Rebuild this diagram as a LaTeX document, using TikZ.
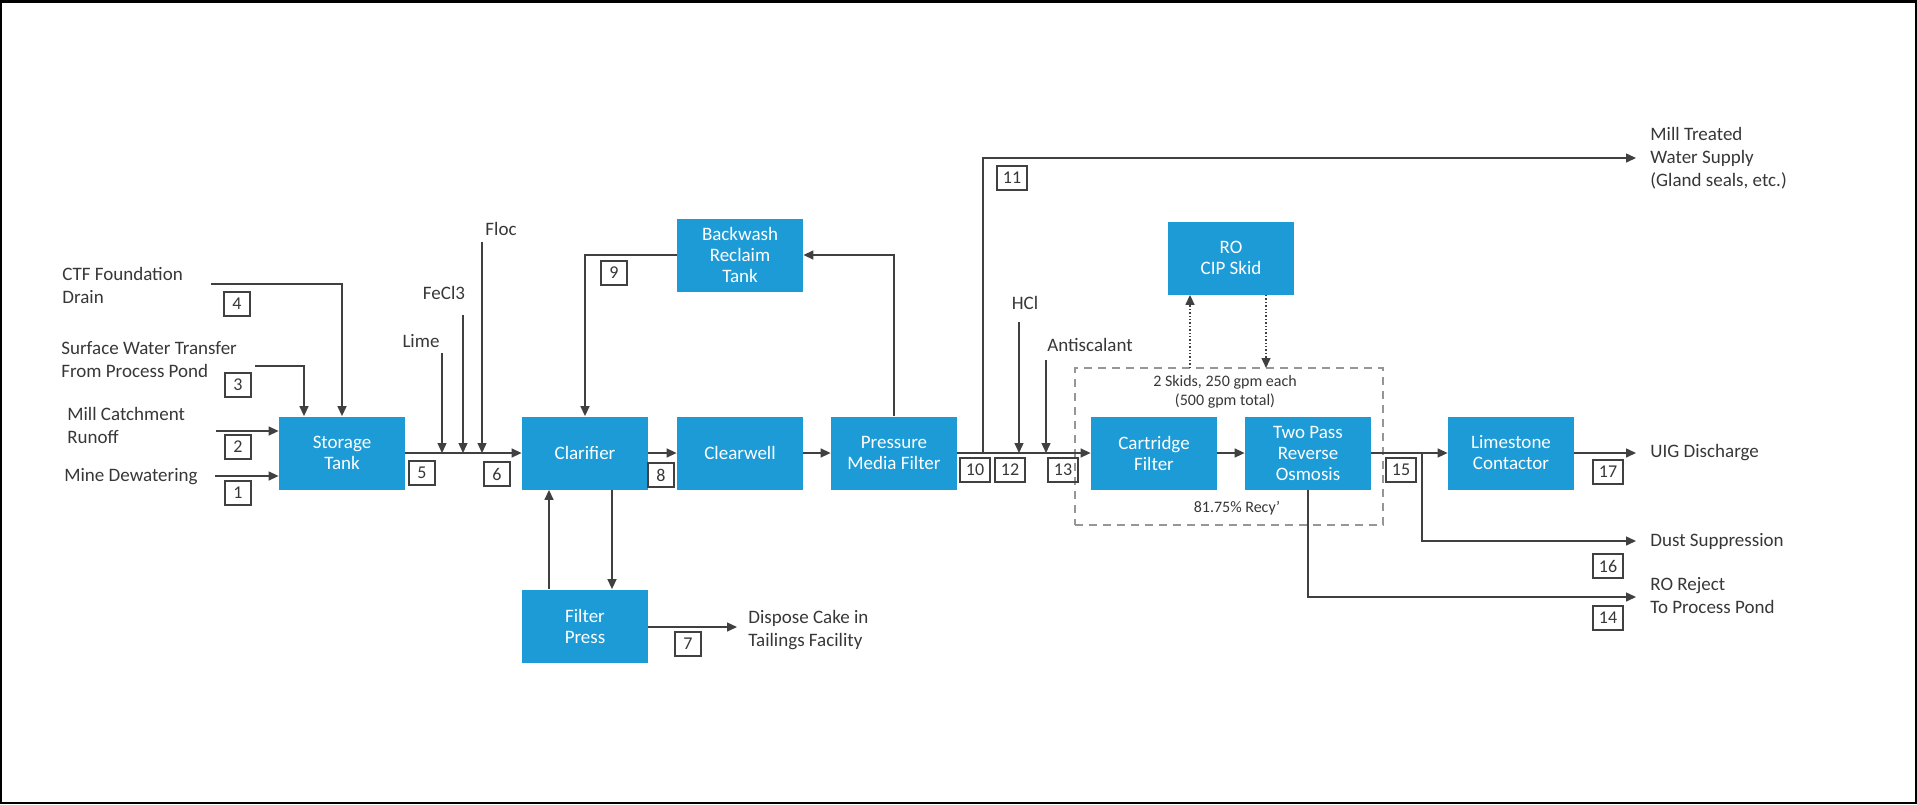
\documentclass[tikz,border=0pt]{standalone}
\usepackage{fontspec}
\setmainfont{Carlito}
\usepackage{tikz}
\usetikzlibrary{calc, positioning, arrows.meta}
\definecolor{unitblue}{RGB}{29,155,214}
\definecolor{linegray}{RGB}{64,64,64}
\definecolor{textgray}{RGB}{55,55,55}
\definecolor{skidgray}{RGB}{150,150,150}

\tikzset{
  unitbox/.style={rectangle, fill=unitblue, text=white, align=center, minimum width=63pt, minimum height=36.5pt, inner sep=1pt, font=\fontsize{9.5}{10.5}\selectfont},
  numbox/.style={draw=linegray, rectangle, line width=0.7pt, minimum width=13pt, minimum height=12pt, inner xsep=3pt, inner ysep=0pt, text=textgray, font=\fontsize{9}{10}\selectfont},
  lbl/.style={align=left, text=textgray, inner sep=0pt, font=\fontsize{9.5}{11.5}\selectfont},
  note/.style={align=center, text=textgray, inner sep=0pt, font=\fontsize{8}{9.5}\selectfont},
  flow/.style={draw=linegray, line width=0.7pt, -{Triangle[length=5pt, width=4.5pt]}},
  cipflow/.style={flow, densely dotted},
  skidframe/.style={draw=skidgray, line width=0.8pt, dash pattern=on 4pt off 3pt, rectangle, inner sep=0pt},
}

\begin{document}
\begin{tikzpicture}[x=50pt, y=50pt]
  \useasboundingbox (0,0) rectangle (19.17,-8.04);
  \draw[line width=1.25pt] (0.0125,-0.0125) rectangle (19.1575,-8.0275);

  % process units
  \node[unitbox] (storage) at (3.42,-4.53) {Storage\\Tank};
  \node[unitbox] (clarifier) at (5.85,-4.53) {Clarifier};
  \node[unitbox] (clearwell) at (7.40,-4.53) {Clearwell};
  \node[unitbox] (pmf) at (8.94,-4.53) {Pressure\\Media Filter};
  \node[unitbox] (backwash) at (7.40,-2.55) {Backwash\\Reclaim\\Tank};
  \node[unitbox] (filterpress) at (5.85,-6.26) {Filter\\Press};
  \node[unitbox] (cartridge) at (11.54,-4.53) {Cartridge\\Filter};
  \node[unitbox] (ro) at (13.08,-4.53) {Two Pass\\Reverse\\Osmosis};
  \node[unitbox] (rocip) at (12.31,-2.58) {RO\\CIP Skid};
  \node[unitbox] (limestone) at (15.11,-4.53) {Limestone\\Contactor};

  % RO skid frame
  \node[skidframe, minimum width=154pt, minimum height=78.5pt] (skids) at (12.29,-4.465) {};
  \node[note] (skidnote) at (12.25,-3.92) {2 Skids, 250 gpm each\\(500 gpm total)};
  \node[note] (recovery) at (12.37,-5.08) {81.75\% Recy'};

  % feed streams
  \node[lbl, anchor=west] (ctf) at (0.62,-2.85) {CTF Foundation\\Drain};
  \node[lbl, anchor=west] (surface) at (0.61,-3.60) {Surface Water Transfer\\From Process Pond};
  \node[lbl, anchor=west] (catchment) at (0.67,-4.25) {Mill Catchment\\Runoff};
  \node[lbl, anchor=west] (mine) at (0.64,-4.77) {Mine Dewatering};
  \coordinate (c4) at (2.11,-2.84);
  \coordinate (c3) at (2.55,-3.66);
  \coordinate (c2) at (2.16,-4.31);
  \coordinate (c1) at (2.15,-4.76);
  \draw[flow] (c4) -| (storage.north);
  \draw[flow] (c3) -| ($(storage.north)+(-0.38,0)$);
  \draw[flow] (c2) -- (c2 -| storage.west);
  \draw[flow] (c1) -- (c1 -| storage.west);

  % reagents
  \node[lbl] (lime) at (4.21,-3.41) {Lime};
  \node[lbl] (fecl) at (4.44,-2.93) {FeCl3};
  \node[lbl] (floc) at (5.01,-2.29) {Floc};
  \coordinate (limein) at (4.42,-3.53);
  \coordinate (feclin) at (4.63,-3.15);
  \coordinate (flocin) at (4.82,-2.42);
  \draw[flow] (limein) -- (limein |- storage.east);
  \draw[flow] (feclin) -- (feclin |- storage.east);
  \draw[flow] (flocin) -- (flocin |- storage.east);

  % main train
  \draw[flow] (storage.east) -- (clarifier.west);
  \draw[flow] (clarifier.east) -- (clearwell.west);
  \draw[flow] (clearwell.east) -- (pmf.west);
  \draw[flow] (pmf.north) |- (backwash.east);
  \draw[flow] (backwash.west) -| (clarifier.north);
  \draw[flow] ($(filterpress.north)+(-0.36,0)$) -- ($(clarifier.south)+(-0.36,0)$);
  \draw[flow] ($(clarifier.south)+(0.27,0)$) -- ($(filterpress.north)+(0.27,0)$);

  \node[lbl, anchor=west] (dispose) at (7.48,-6.30) {Dispose Cake in\\Tailings Facility};
  \coordinate (cakeout) at (7.37,-6.27);
  \draw[flow] (filterpress.east |- cakeout) -- (cakeout);

  % RO train
  \node[lbl] (hcl) at (10.25,-3.03) {HCl};
  \node[lbl] (antiscalant) at (10.90,-3.45) {Antiscalant};
  \coordinate (hclin) at (10.19,-3.22);
  \coordinate (antiin) at (10.46,-3.60);
  \draw[flow] (pmf.east) -- (cartridge.west);
  \draw[flow] (hclin) -- (hclin |- pmf.east);
  \draw[flow] (antiin) -- (antiin |- pmf.east);
  \draw[flow] (cartridge.east) -- (ro.west);
  \draw[flow] (ro.east) -- (limestone.west);

  \coordinate (cipup) at (11.90,-3.68);
  \coordinate (cipdn) at (12.66,-3.68);
  \draw[cipflow] (cipup) -- (cipup |- rocip.south);
  \draw[cipflow] (cipdn |- rocip.south) -- (cipdn);

  % product streams
  \node[lbl, anchor=west] (millwater) at (16.50,-1.58) {Mill Treated\\Water Supply\\(Gland seals, etc.)};
  \node[lbl, anchor=west] (uig) at (16.50,-4.53) {UIG Discharge};
  \node[lbl, anchor=west] (dust) at (16.50,-5.41) {Dust Suppression};
  \node[lbl, anchor=west] (reject) at (16.50,-5.96) {RO Reject\\To Process Pond};
  \coordinate (tap11) at (9.83,-4.53);
  \coordinate (tap16) at (14.22,-4.53);
  \coordinate (millout) at (16.36,-1.58);
  \coordinate (uigout) at (16.36,-4.53);
  \coordinate (dustout) at (16.36,-5.41);
  \coordinate (rejectout) at (16.36,-5.97);
  \draw[flow] (tap11) |- (millout);
  \draw[flow] (tap16) |- (dustout);
  \draw[flow] (limestone.east) -- (uigout);
  \draw[flow] (ro.south) |- (rejectout);

  % stream numbers
  \node[numbox] (n1) at (2.38,-4.93) {1};
  \node[numbox] (n2) at (2.38,-4.47) {2};
  \node[numbox] (n3) at (2.38,-3.85) {3};
  \node[numbox] (n4) at (2.37,-3.04) {4};
  \node[numbox] (n5) at (4.22,-4.73) {5};
  \node[numbox] (n6) at (4.97,-4.74) {6};
  \node[numbox] (n7) at (6.88,-6.44) {7};
  \node[numbox] (n8) at (6.61,-4.75) {8};
  \node[numbox] (n9) at (6.14,-2.73) {9};
  \node[numbox] (n10) at (9.75,-4.70) {10};
  \node[numbox] (n11) at (10.12,-1.78) {11};
  \node[numbox] (n12) at (10.10,-4.70) {12};
  \node[numbox] (n13) at (10.63,-4.70) {13};
  \node[numbox] (n14) at (16.08,-6.18) {14};
  \node[numbox] (n15) at (14.01,-4.70) {15};
  \node[numbox] (n16) at (16.08,-5.66) {16};
  \node[numbox] (n17) at (16.08,-4.72) {17};
\end{tikzpicture}
\end{document}
